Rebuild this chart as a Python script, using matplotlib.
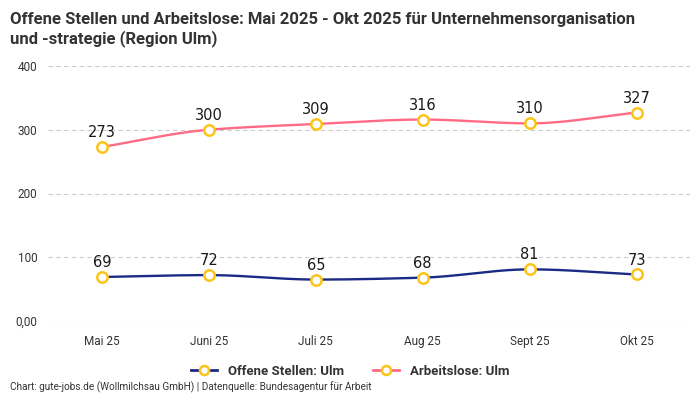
import numpy as np
import matplotlib
matplotlib.use("Agg")
from matplotlib import pyplot as plt
from matplotlib.lines import Line2D

plt.rcParams['font.family'] = ['Roboto', 'DejaVu Sans']

months = ["Mai 25", "Juni 25", "Juli 25", "Aug 25", "Sept 25", "Okt 25"]
offene_stellen = [69, 72, 65, 68, 81, 73]
arbeitslose = [273, 300, 309, 316, 310, 327]

yticks = [0, 100, 200, 300, 400]
ytick_labels = ["0,00", "100", "200", "300", "400"]

navy = "#1b2a85"
pink = "#ff6b84"
marker_edge = "#fcc419"


def monotone_curve(x, y, n=40):
    # Fritsch-Carlson monotone cubic for the smooth line between points
    x = np.asarray(x, float)
    y = np.asarray(y, float)
    h = np.diff(x)
    d = np.diff(y) / h
    m = np.zeros_like(y)
    m[0], m[-1] = d[0], d[-1]
    for i in range(1, len(y) - 1):
        if d[i - 1] * d[i] <= 0:
            m[i] = 0
        else:
            m[i] = 3 * (h[i - 1] + h[i]) / ((2 * h[i] + h[i - 1]) / d[i - 1] + (h[i] + 2 * h[i - 1]) / d[i])
    xs, ys = [], []
    for i in range(len(h)):
        t = np.linspace(0, 1, n)
        h00 = 2 * t**3 - 3 * t**2 + 1
        h10 = t**3 - 2 * t**2 + t
        h01 = -2 * t**3 + 3 * t**2
        h11 = t**3 - t**2
        xs.append(x[i] + t * h[i])
        ys.append(h00 * y[i] + h10 * h[i] * m[i] + h01 * y[i + 1] + h11 * h[i] * m[i + 1])
    return np.concatenate(xs), np.concatenate(ys)


fig = plt.figure(figsize=(7, 4), dpi=100)
ax = fig.add_axes([0.069, 0.1975, 0.917, 0.6375])

x = np.arange(len(months))
for vals, col in [(offene_stellen, navy), (arbeitslose, pink)]:
    cx, cy = monotone_curve(x, vals)
    ax.plot(cx, cy, color=col, lw=1.7, zorder=3)
    ax.plot(x, vals, ls="none", marker="o", ms=7.5, mfc="white", mec=marker_edge, mew=1.8, zorder=4)
    for xi, v in zip(x, vals):
        ax.annotate(str(v), (xi, v), xytext=(0, 5), textcoords="offset points",
                    ha="center", va="bottom", fontsize=10.5, color="#1a1a1a",
                    fontweight="medium", family=['DejaVu Sans'])

ax.set_xlim(-0.5, 5.5)
ax.set_ylim(0, 400)
ax.set_xticks(x)
ax.set_xticklabels(months, fontsize=8.5, color="#333333")
ax.set_yticks(yticks)
ax.set_yticklabels(ytick_labels, fontsize=8.5, color="#333333")
ax.tick_params(length=0, pad=8)
ax.tick_params(axis="x", pad=10)
ax.grid(axis="y", ls=(0, (4, 3)), color="#cccccc", lw=0.8)
for s in ax.spines.values():
    s.set_visible(False)

fig.text(0.014, 0.97, "Offene Stellen und Arbeitslose: Mai 2025 - Okt 2025 für Unternehmensorganisation\nund -strategie (Region Ulm)",
         ha="left", va="top", fontsize=12, fontweight="bold", color="#333333", linespacing=1.25)

handles = [
    Line2D([], [], color=navy, lw=2, marker="o", ms=6.5, mfc="white", mec=marker_edge, mew=1.8),
    Line2D([], [], color=pink, lw=2, marker="o", ms=6.5, mfc="white", mec=marker_edge, mew=1.8),
]
fig.legend(handles, ["Offene Stellen: Ulm", "Arbeitslose: Ulm"], loc="center", bbox_to_anchor=(0.5, 0.072),
           ncol=2, frameon=False, prop={"size": 9.5, "weight": "bold"}, handlelength=2.0, columnspacing=2.2,
           labelcolor="#333333")

fig.text(0.014, 0.017, "Chart: gute-jobs.de (Wollmilchsau GmbH) | Datenquelle: Bundesagentur für Arbeit",
         ha="left", va="bottom", fontsize=7.2, color="#333333")

fig.savefig("out.png", dpi=100, facecolor="white")
